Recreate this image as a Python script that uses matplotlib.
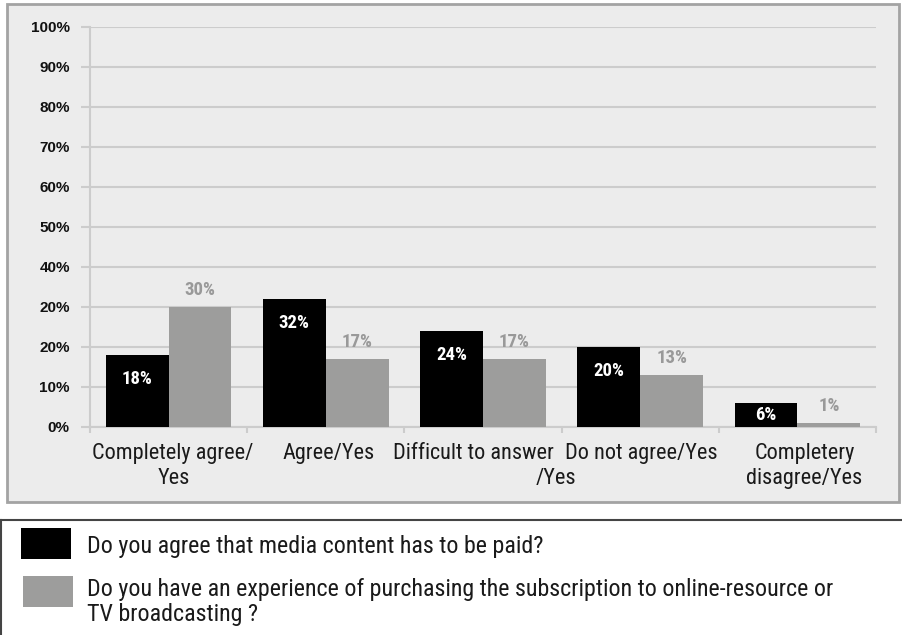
import numpy as np
import matplotlib
matplotlib.use('Agg')
from matplotlib import pyplot as plt
from matplotlib.patches import Rectangle
from matplotlib.lines import Line2D

# survey answers
categories = ['Completely agree/\nYes', 'Agree/Yes', 'Difficult to answer\n/Yes',
              'Do not agree/Yes', 'Completery\ndisagree/Yes']
paid_content = [18, 32, 24, 20, 6]
subscription = [30, 17, 17, 13, 1]
series_names = ['Do you agree that media content has to be paid?',
                'Do you have an experience of purchasing the subscription to online-resource or\nTV broadcasting ?']
ytick_values = [0, 10, 20, 30, 40, 50, 60, 70, 80, 90, 100]
ytick_labels = ['0%', '10%', '20%', '20%', '40%', '50%', '60%', '70%', '80%', '90%', '100%']

W, H = 902, 635
narrow = ['Roboto Condensed', 'DejaVu Sans']
plain = ['Liberation Sans', 'DejaVu Sans']

fig = plt.figure(figsize=(W / 100, H / 100), dpi=100)

def fx(px):
    return px / W

def fy(py):
    return 1 - py / H

# grey panel behind the chart
panel = Rectangle((fx(7), fy(502)), fx(899) - fx(7), fy(4) - fy(502), transform=fig.transFigure,
                  facecolor='#ececec', edgecolor='#a3a3a3', lw=2, zorder=-5)
fig.add_artist(panel)

ax = fig.add_axes([fx(90), fy(427), fx(876) - fx(90), fy(27) - fy(427)])
ax.set_facecolor('none')

x = np.arange(len(categories))
bw = 0.4
b1 = ax.bar(x - bw / 2, paid_content, bw, color='black', zorder=3)
b2 = ax.bar(x + bw / 2, subscription, bw, color='#9d9d9c', zorder=3)

# white labels sit a little under the bar top (mid-bar for short bars)
for rect, v in zip(b1, paid_content):
    ax.text(rect.get_x() + rect.get_width() / 2, v - min(6, v / 2), f'{v}%',
            ha='center', va='center', color='white',
            fontsize=13.5, fontweight='bold', family=narrow, zorder=4)
for rect, v in zip(b2, subscription):
    ax.annotate(f'{v}%', (rect.get_x() + rect.get_width() / 2, v), xytext=(0, 12),
                textcoords='offset points', ha='center', va='center', color='#999999',
                fontsize=13.5, fontweight='bold', family=narrow, zorder=4)

ax.set_xlim(-0.5, len(categories) - 0.5)
ax.set_ylim(0, 100)
ax.set_yticks(ytick_values)
ax.set_yticklabels(ytick_labels, family=plain, fontsize=11, fontweight='bold', color='#111111')
ax.tick_params(axis='y', length=6.5, width=1.5, color='#cccccc', pad=8)

# category separators on the x axis
ax.set_xticks(np.arange(len(categories) + 1) - 0.5)
ax.set_xticklabels([])
ax.tick_params(axis='x', which='major', length=4, width=1.5, color='#cccccc')

# category names, one text per line, nudged sideways (pixels) like the original layout
nudge = [(4.5, 5), (2.5,), (-9.5, 72.5), (1,), (7, 7)]
for i, name in enumerate(categories):
    for j, line in enumerate(name.split('\n')):
        ax.annotate(line, (i, 0), xycoords=('data', 'axes fraction'),
                    xytext=(nudge[i][j], -32 - 25 * j), textcoords='offset pixels',
                    ha='center', va='baseline', family=narrow, fontsize=16, color='#1a1a1a')

ax.yaxis.grid(True, color='#cccccc', lw=1.5, zorder=0)
ax.set_axisbelow(True)
for s in ['top', 'right']:
    ax.spines[s].set_visible(False)
for s in ['left', 'bottom']:
    ax.spines[s].set_color('#cccccc')
    ax.spines[s].set_linewidth(1.5)

# legend frame below the chart
fig.add_artist(Line2D([fx(1), fx(1)], [fy(520), 0], transform=fig.transFigure, color='#444444', lw=1.5))
fig.add_artist(Line2D([fx(1), 1], [fy(520), fy(520)], transform=fig.transFigure, color='#444444', lw=1.5))

fig.add_artist(Rectangle((fx(21), fy(559)), fx(50), fy(528) - fy(559), transform=fig.transFigure,
                         facecolor='black', edgecolor='none'))
fig.add_artist(Rectangle((fx(23), fy(607)), fx(50), fy(576) - fy(607), transform=fig.transFigure,
                         facecolor='#9d9d9c', edgecolor='none'))
fig.text(fx(87), fy(547), series_names[0], family=narrow, fontsize=17.3, color='#1a1a1a', va='center')
fig.text(fx(87), fy(602), series_names[1], family=narrow, fontsize=17.3, color='#1a1a1a', va='center',
         linespacing=1.13)

fig.savefig('out.png', dpi=100)
